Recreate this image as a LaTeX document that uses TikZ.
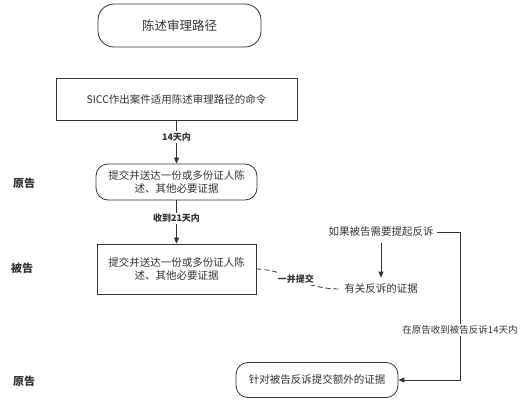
\documentclass[tikz,border=0pt]{standalone}
\usepackage{fontspec}
\setmainfont{Noto Sans CJK SC}
\usetikzlibrary{arrows.meta,positioning}
\definecolor{Ink}{HTML}{333333}

\tikzset{
  rbox/.style={draw=Ink,line width=0.8pt,rounded corners=12pt,align=center,inner sep=2pt},
  sbox/.style={draw=Ink,line width=0.8pt,align=center,inner sep=2pt},
  body/.style={font=\fontsize{10.5}{13.5}\selectfont,text=Ink},
  flow/.style={draw=Ink,line width=0.8pt,-{Triangle[length=6pt,width=5pt]}},
  tag/.style={font=\bfseries\fontsize{9}{11}\selectfont,text=Ink,fill=white,inner sep=1.5pt},
  party/.style={font=\bfseries\fontsize{11}{13}\selectfont,text=Ink},
  dashlink/.style={draw=Ink,line width=0.8pt,dash pattern=on 5pt off 3pt}
}

\begin{document}
\begin{tikzpicture}[x=1pt,y=-1pt]
  \useasboundingbox (0,0) rectangle (527,404);
  % main column
  \node[rbox,rounded corners=16pt,minimum width=163pt,minimum height=43pt,font=\fontsize{12.5}{15}\selectfont,text=Ink] (title) at (179.5,25.5) {陈述审理路径};
  \node[sbox,body,minimum width=241pt,minimum height=42pt] (order) at (176.5,99) {SICC作出案件适用陈述审理路径的命令};
  \node[rbox,body,minimum width=161pt,minimum height=36pt] (claim) at (176.5,182) {提交并送达一份或多份证人陈\\述、其他必要证据};
  \node[sbox,body,minimum width=159pt,minimum height=50pt] (defence) at (176.5,269) {提交并送达一份或多份证人陈\\述、其他必要证据};
  \draw[flow] (order) -- node[tag,pos=0.38]{14天内} (claim);
  \draw[flow] (claim) -- node[tag,pos=0.42]{收到21天内} (defence);
  % parties
  \node[party] (p1) at (24,183) {原告};
  \node[party] (d1) at (22,268) {被告};
  \node[party] (p2) at (24,381) {原告};
  % counterclaim branch
  \node[body] (cc) at (381,232) {如果被告需要提起反诉};
  \node[body] (ccev) at (381,289) {有关反诉的证据};
  \node[rbox,body,minimum width=162pt,minimum height=35pt] (extra) at (317,380) {针对被告反诉提交额外的证据};
  \draw[flow,shorten <=3pt,shorten >=3pt] (cc.south) -- (ccev.north);
  \draw[dashlink] (defence.east) .. controls (290,270) and (300,289) .. node[tag,pos=0.5]{一并提交} (ccev.west);
  \coordinate (turn) at (460,232);
  \coordinate (bend) at (460,380);
  \draw[flow] (cc.east) -- (turn) -- node[pos=0.66,fill=white,inner sep=1.5pt,font=\fontsize{9.5}{11}\selectfont,text=Ink]{在原告收到被告反诉14天内} (bend) -- (extra.east);
\end{tikzpicture}
\end{document}
